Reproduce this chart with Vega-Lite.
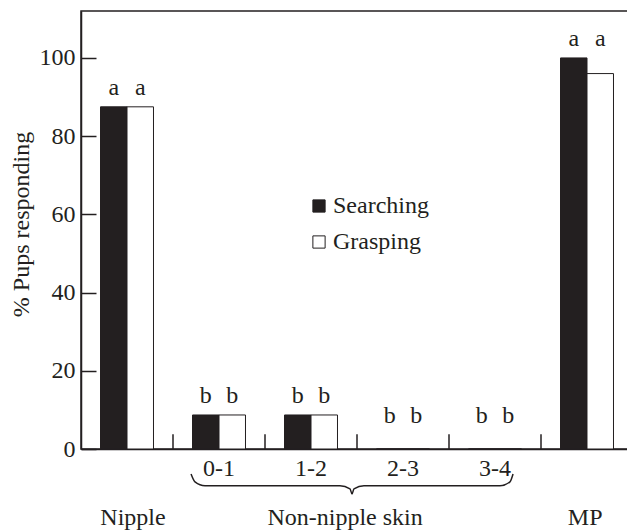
{
  "$schema": "https://vega.github.io/schema/vega-lite/v6.json",
  "autosize": {"type": "none"},
  "padding": {"left": 81, "top": 11, "right": 0, "bottom": 81},
  "width": 552,
  "height": 438,
  "background": "white",
  "config": {
    "font": "Liberation Serif",
    "view": {"stroke": "#231f20", "strokeWidth": 1.5},
    "axis": {
      "labelFont": "Liberation Serif", "titleFont": "Liberation Serif",
      "labelFontSize": 24, "titleFontSize": 24,
      "labelColor": "#231f20", "titleColor": "#231f20",
      "domainColor": "#231f20", "tickColor": "#231f20",
      "domainWidth": 1.5, "tickWidth": 1.5,
      "titleFontWeight": "normal", "grid": false
    },
    "legend": {
      "labelFont": "Liberation Serif", "labelFontSize": 24, "labelColor": "#231f20"
    },
    "text": {"font": "Liberation Serif", "fontSize": 24, "color": "#231f20"}
  },
  "datasets": {
    "bars": [
      {"cat": "Nipple", "measure": "Searching", "value": 87.5, "letter": "a"},
      {"cat": "Nipple", "measure": "Grasping", "value": 87.5, "letter": "a"},
      {"cat": "0-1", "measure": "Searching", "value": 8.7, "letter": "b"},
      {"cat": "0-1", "measure": "Grasping", "value": 8.7, "letter": "b"},
      {"cat": "1-2", "measure": "Searching", "value": 8.7, "letter": "b"},
      {"cat": "1-2", "measure": "Grasping", "value": 8.7, "letter": "b"},
      {"cat": "2-3", "measure": "Searching", "value": 0, "letter": "b"},
      {"cat": "2-3", "measure": "Grasping", "value": 0, "letter": "b"},
      {"cat": "3-4", "measure": "Searching", "value": 0, "letter": "b"},
      {"cat": "3-4", "measure": "Grasping", "value": 0, "letter": "b"},
      {"cat": "MP", "measure": "Searching", "value": 100, "letter": "a"},
      {"cat": "MP", "measure": "Grasping", "value": 96, "letter": "a"}
    ],
    "ticks": [{"p": 1}, {"p": 2}, {"p": 3}, {"p": 4}, {"p": 5}],
    "brace": [
      {"p": 1.196, "value": -6.4},
      {"p": 1.239, "value": -8.4},
      {"p": 1.348, "value": -9.4},
      {"p": 2.815, "value": -9.4},
      {"p": 2.924, "value": -10.2},
      {"p": 2.946, "value": -11.5},
      {"p": 2.967, "value": -10.2},
      {"p": 3.076, "value": -9.4},
      {"p": 4.554, "value": -9.4},
      {"p": 4.663, "value": -8.4},
      {"p": 4.696, "value": -6.4}
    ],
    "groups": [
      {"p": 0.565, "value": -19.4, "t": "Nipple"},
      {"p": 2.87, "value": -19.4, "t": "Non-nipple skin"},
      {"p": 5.48, "value": -19.4, "t": "MP"}
    ]
  },
  "layer": [
    {
      "data": {"name": "bars"},
      "encoding": {
        "x": {
          "field": "cat", "type": "nominal",
          "sort": ["Nipple", "0-1", "1-2", "2-3", "3-4", "MP"],
          "scale": {"paddingInner": 0.424, "paddingOuter": 0.212},
          "axis": {
            "title": null, "ticks": false, "labelPadding": 7, "labelAngle": 0,
            "labelExpr": "datum.label == 'Nipple' || datum.label == 'MP' ? '' : datum.label"
          }
        },
        "xOffset": {"field": "measure", "type": "nominal", "sort": ["Searching", "Grasping"]},
        "y": {
          "field": "value", "type": "quantitative",
          "scale": {"domain": [0, 112], "nice": false},
          "title": "% Pups responding",
          "axis": {
            "values": [0, 20, 40, 60, 80, 100],
            "tickSize": -15, "labelPadding": 21,
            "titleAngle": -90, "titleX": -60, "titleY": 213,
            "titleBaseline": "middle", "titleAlign": "center"
          }
        }
      },
      "layer": [
        {
          "mark": {"type": "bar", "stroke": "#231f20", "strokeWidth": 1},
          "encoding": {
            "fill": {
              "field": "measure", "type": "nominal",
              "scale": {"domain": ["Searching", "Grasping"], "range": ["#231f20", "#ffffff"]},
              "legend": {
                "title": null, "orient": "none", "legendX": 226, "legendY": 183,
                "symbolType": "square", "symbolSize": 150,
                "symbolStrokeColor": "#231f20", "symbolStrokeWidth": 1,
                "rowPadding": 12, "labelOffset": 2
              }
            }
          }
        },
        {
          "transform": [
            {"joinaggregate": [{"op": "max", "field": "value", "as": "top"}], "groupby": ["cat"]},
            {"filter": "datum.top > 0"}
          ],
          "mark": {"type": "text", "dy": -12, "baseline": "alphabetic"},
          "encoding": {
            "y": {"field": "top", "type": "quantitative", "title": "% Pups responding"},
            "text": {"field": "letter"}
          }
        },
        {
          "transform": [
            {"joinaggregate": [{"op": "max", "field": "value", "as": "top"}], "groupby": ["cat"]},
            {"filter": "datum.top == 0"}
          ],
          "mark": {"type": "text", "dy": -26, "baseline": "alphabetic"},
          "encoding": {
            "y": {"field": "top", "type": "quantitative", "title": "% Pups responding"},
            "text": {"field": "letter"}
          }
        }
      ]
    },
    {
      "data": {"name": "ticks"},
      "mark": {"type": "rule", "stroke": "#231f20", "strokeWidth": 1.5},
      "encoding": {
        "x": {"field": "p", "type": "quantitative", "scale": {"domain": [0, 6], "nice": false, "zero": true}, "axis": null},
        "y": {
          "datum": 0, "type": "quantitative", "scale": {"domain": [0, 112], "nice": false},
          "title": "% Pups responding",
          "axis": {
            "values": [0, 20, 40, 60, 80, 100],
            "tickSize": -15, "labelPadding": 21,
            "titleAngle": -90, "titleX": -60, "titleY": 213,
            "titleBaseline": "middle", "titleAlign": "center"
          }
        },
        "y2": {"datum": 3.8}
      }
    },
    {
      "data": {"name": "brace"},
      "mark": {"type": "line", "stroke": "#231f20", "strokeWidth": 1.5, "interpolate": "monotone"},
      "encoding": {
        "x": {"field": "p", "type": "quantitative", "scale": {"domain": [0, 6], "nice": false, "zero": true}, "axis": null},
        "y": {
          "field": "value", "type": "quantitative", "scale": {"domain": [0, 112], "nice": false},
          "title": "% Pups responding",
          "axis": {
            "values": [0, 20, 40, 60, 80, 100],
            "tickSize": -15, "labelPadding": 21,
            "titleAngle": -90, "titleX": -60, "titleY": 213,
            "titleBaseline": "middle", "titleAlign": "center"
          }
        }
      }
    },
    {
      "data": {"name": "groups"},
      "mark": {"type": "text", "baseline": "alphabetic", "align": "center"},
      "encoding": {
        "x": {"field": "p", "type": "quantitative", "scale": {"domain": [0, 6], "nice": false, "zero": true}, "axis": null},
        "y": {
          "field": "value", "type": "quantitative", "scale": {"domain": [0, 112], "nice": false},
          "title": "% Pups responding",
          "axis": {
            "values": [0, 20, 40, 60, 80, 100],
            "tickSize": -15, "labelPadding": 21,
            "titleAngle": -90, "titleX": -60, "titleY": 213,
            "titleBaseline": "middle", "titleAlign": "center"
          }
        },
        "text": {"field": "t"}
      }
    }
  ],
  "resolve": {"scale": {"x": "independent"}, "axis": {"x": "independent"}}
}
